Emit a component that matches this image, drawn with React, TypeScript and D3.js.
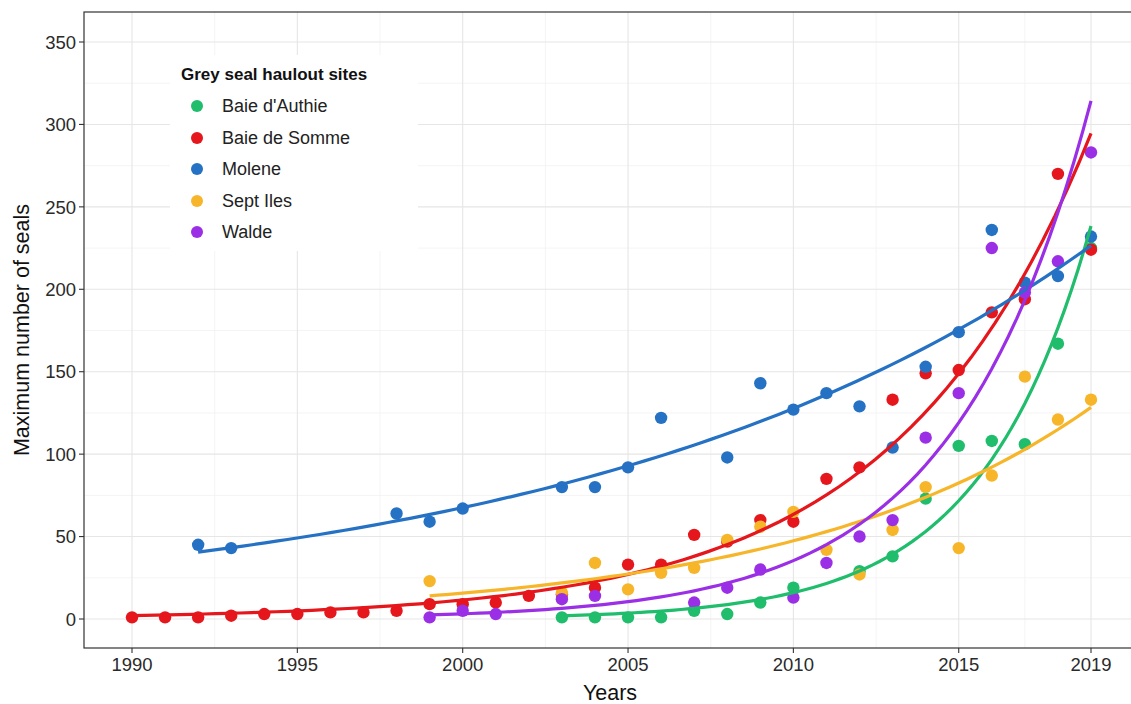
import React from "react";
import * as d3 from "d3";

const siteNames = ["Baie d'Authie", "Baie de Somme", "Molene", "Sept Iles", "Walde"];
const siteColors = ["#1fbd6c", "#e5161c", "#2571c4", "#f7b52a", "#9a2fe6"];

const authieYears = [2003, 2004, 2005, 2006, 2007, 2008, 2009, 2010, 2012, 2013, 2014, 2015, 2016, 2017, 2018, 2019];
const authieCounts = [1, 1, 1, 1, 5, 3, 10, 19, 29, 38, 73, 105, 108, 106, 167, 225];

const sommeYears = [1990, 1991, 1992, 1993, 1994, 1995, 1996, 1997, 1998, 1999, 2000, 2001, 2002, 2003, 2004, 2005, 2006, 2007, 2008, 2009, 2010, 2011, 2012, 2013, 2014, 2015, 2016, 2017, 2018, 2019];
const sommeCounts = [1, 1, 1, 2, 3, 3, 4, 4, 5, 9, 9, 10, 14, 15, 19, 33, 33, 51, 47, 60, 59, 85, 92, 133, 149, 151, 186, 194, 270, 224];

const moleneYears = [1992, 1993, 1998, 1999, 2000, 2003, 2004, 2005, 2006, 2008, 2009, 2010, 2011, 2012, 2013, 2014, 2015, 2016, 2017, 2018, 2019];
const moleneCounts = [45, 43, 64, 59, 67, 80, 80, 92, 122, 98, 143, 127, 137, 129, 104, 153, 174, 236, 204, 208, 232];

const septYears = [1999, 2003, 2004, 2005, 2006, 2007, 2008, 2009, 2010, 2011, 2012, 2013, 2014, 2015, 2016, 2017, 2018, 2019];
const septCounts = [23, 16, 34, 18, 28, 31, 48, 56, 65, 42, 27, 54, 80, 43, 87, 147, 121, 133];

const waldeYears = [1999, 2000, 2001, 2003, 2004, 2007, 2008, 2009, 2010, 2011, 2012, 2013, 2014, 2015, 2016, 2017, 2018, 2019];
const waldeCounts = [1, 5, 3, 12, 14, 10, 19, 30, 13, 34, 50, 60, 110, 137, 225, 198, 217, 283];

const xTicks = [1990, 1995, 2000, 2005, 2010, 2015, 2019];
const yTicks = [0, 50, 100, 150, 200, 250, 300, 350];

const seriesYears = [authieYears, sommeYears, moleneYears, septYears, waldeYears];
const seriesCounts = [authieCounts, sommeCounts, moleneCounts, septCounts, waldeCounts];

// Poisson GLM (log link) fitted by IRLS, like geom_smooth(method="glm")
function poissonFit(xs: number[], ys: number[]) {
  const mx = d3.mean(xs) as number;
  const xc = xs.map((v) => v - mx);
  let b0 = 0;
  let b1 = 0;
  let mu = ys.map((v) => v + 0.1);
  let eta = mu.map(Math.log);
  for (let it = 0; it < 50; it++) {
    const z = eta.map((e, i) => e + (ys[i] - mu[i]) / mu[i]);
    const w = mu;
    let sw = 0, swx = 0, swxx = 0, swz = 0, swxz = 0;
    for (let i = 0; i < xc.length; i++) {
      sw += w[i]; swx += w[i] * xc[i]; swxx += w[i] * xc[i] * xc[i];
      swz += w[i] * z[i]; swxz += w[i] * xc[i] * z[i];
    }
    const det = sw * swxx - swx * swx;
    b0 = (swxx * swz - swx * swxz) / det;
    b1 = (sw * swxz - swx * swz) / det;
    eta = xc.map((v) => b0 + b1 * v);
    mu = eta.map(Math.exp);
  }
  return (x: number) => Math.exp(b0 + b1 * (x - mx));
}

export default function App() {
  const W = 1131, H = 704;
  const panelL = 84, panelT = 12, panelB = 648, panelR = 1139;
  const x = d3.scaleLinear().domain([1990, 2019]).range([132, 1091]);
  const y = d3.scaleLinear().domain([0, 350]).range([619, 42]);
  const xMinor = [1992.5, 1997.5, 2002.5, 2007.5, 2012.5, 2017];
  const yMinor = [25, 75, 125, 175, 225, 275, 325];
  const font = "'Liberation Sans', Arial, sans-serif";
  const line = d3.line<[number, number]>().x((d) => x(d[0])).y((d) => y(d[1])).curve(d3.curveLinear);

  const fits = seriesYears.map((yrs, i) => {
    const f = poissonFit(yrs, seriesCounts[i]);
    const lo = d3.min(yrs) as number, hi = d3.max(yrs) as number;
    const pts: [number, number][] = d3.range(0, 81).map((k) => {
      const t = lo + ((hi - lo) * k) / 80;
      return [t, f(t)];
    });
    return pts;
  });

  const legendItemsY = [106, 138, 169, 201, 232];

  return (
    <svg width={W} height={H} style={{ position: "absolute", left: 0, top: 0, background: "#fff" }}>
      <defs>
        <clipPath id="panel">
          <rect x={panelL} y={panelT} width={panelR - panelL} height={panelB - panelT} />
        </clipPath>
      </defs>
      <rect x={0} y={0} width={W} height={H} fill="#fff" />
      <g>
        {yMinor.map((v) => (
          <line key={"ym" + v} x1={panelL} x2={panelR} y1={y(v)} y2={y(v)} stroke="#f1f1f1" strokeWidth={0.8} />
        ))}
        {xMinor.map((v) => (
          <line key={"xm" + v} x1={x(v)} x2={x(v)} y1={panelT} y2={panelB} stroke="#f1f1f1" strokeWidth={0.8} />
        ))}
        {yTicks.map((v) => (
          <line key={"yg" + v} x1={panelL} x2={panelR} y1={y(v)} y2={y(v)} stroke="#e6e6e6" strokeWidth={1.1} />
        ))}
        {xTicks.map((v) => (
          <line key={"xg" + v} x1={x(v)} x2={x(v)} y1={panelT} y2={panelB} stroke="#e6e6e6" strokeWidth={1.1} />
        ))}
      </g>
      <g clipPath="url(#panel)">
        {seriesYears.map((yrs, i) =>
          yrs.map((yr, j) => (
            <circle key={i + "-" + yr} cx={x(yr)} cy={y(seriesCounts[i][j])} r={6.2} fill={siteColors[i]} />
          ))
        )}
        {fits.map((pts, i) => (
          <path key={"fit" + i} d={line(pts) || ""} fill="none" stroke={siteColors[i]} strokeWidth={3.2} />
        ))}
      </g>
      <rect x={panelL} y={panelT} width={panelR - panelL} height={panelB - panelT} fill="none" stroke="#333" strokeWidth={1.2} />
      {yTicks.map((v) => (
        <g key={"yt" + v}>
          <line x1={panelL - 5} x2={panelL} y1={y(v)} y2={y(v)} stroke="#333" strokeWidth={1.1} />
          <text x={panelL - 8} y={y(v)} dy="0.36em" textAnchor="end" fontFamily={font} fontSize={18.5} fill="#2a2a2a">
            {v}
          </text>
        </g>
      ))}
      {xTicks.map((v) => (
        <g key={"xt" + v}>
          <line x1={x(v)} x2={x(v)} y1={panelB} y2={panelB + 5} stroke="#333" strokeWidth={1.1} />
          <text x={x(v)} y={671} textAnchor="middle" fontFamily={font} fontSize={18.5} fill="#2a2a2a">
            {v}
          </text>
        </g>
      ))}
      <text x={610} y={700} textAnchor="middle" fontFamily={font} fontSize={21.5} fill="#111">
        Years
      </text>
      <text transform="translate(29,330) rotate(-90)" textAnchor="middle" fontFamily={font} fontSize={21.5} fill="#111">
        Maximum number of seals
      </text>
      <g>
        <rect x={170} y={55} width={248} height={196} fill="#fff" />
        <text x={181} y={80} fontFamily={font} fontSize={17} fontWeight="bold" fill="#111">
          Grey seal haulout sites
        </text>
        {siteNames.map((n, i) => (
          <g key={n}>
            <circle cx={197} cy={legendItemsY[i]} r={6} fill={siteColors[i]} />
            <text x={222} y={legendItemsY[i]} dy="0.36em" fontFamily={font} fontSize={18} fill="#222">
              {n}
            </text>
          </g>
        ))}
      </g>
    </svg>
  );
}
